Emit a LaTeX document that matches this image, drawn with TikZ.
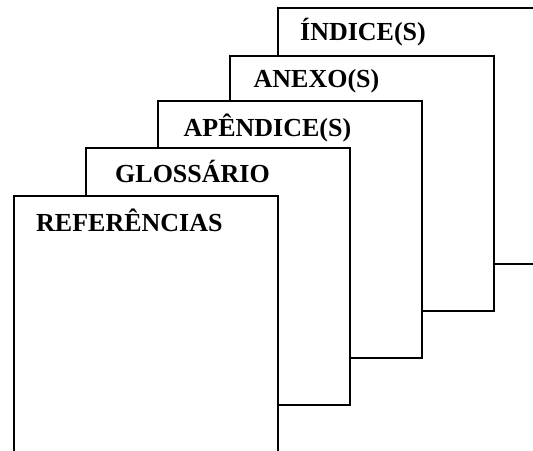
\documentclass[tikz,border=0pt]{standalone}
\usepackage{fontspec}
\setmainfont{Liberation Serif}
\begin{document}
\begin{tikzpicture}[x=1pt,y=-1pt,
  page/.style={draw=black,fill=white,line width=2pt,inner sep=0pt,outer sep=0pt},
  lbl/.style={anchor=base west,inner sep=0pt,font=\fontsize{26}{30}\selectfont\bfseries}]
\useasboundingbox (0,0) rectangle (533,450);
\clip (0,0) rectangle (533,450);
\fill[white] (0,0) rectangle (533,450);
% pages back to front
\draw[page] (278,8) rectangle (560,264);
\node[lbl] (t5) at (300,40.5) {ÍNDICE(S)};
\draw[page] (230,56) rectangle (493.5,311);
\node[lbl] (t4) at (253.5,87.5) {ANEXO(S)};
\draw[page] (157.5,100.5) rectangle (421.7,358);
\node[lbl] (t3) at (183.5,136.5) {APÊNDICE(S)};
\draw[page] (85.8,148.3) rectangle (349.7,404.7);
\node[lbl] (t2) at (115,182.5) {GLOSSÁRIO};
\draw[page] (13.5,195.5) rectangle (277.7,480);
\node[lbl] (t1) at (36,231.5) {REFERÊNCIAS};
\end{tikzpicture}
\end{document}
